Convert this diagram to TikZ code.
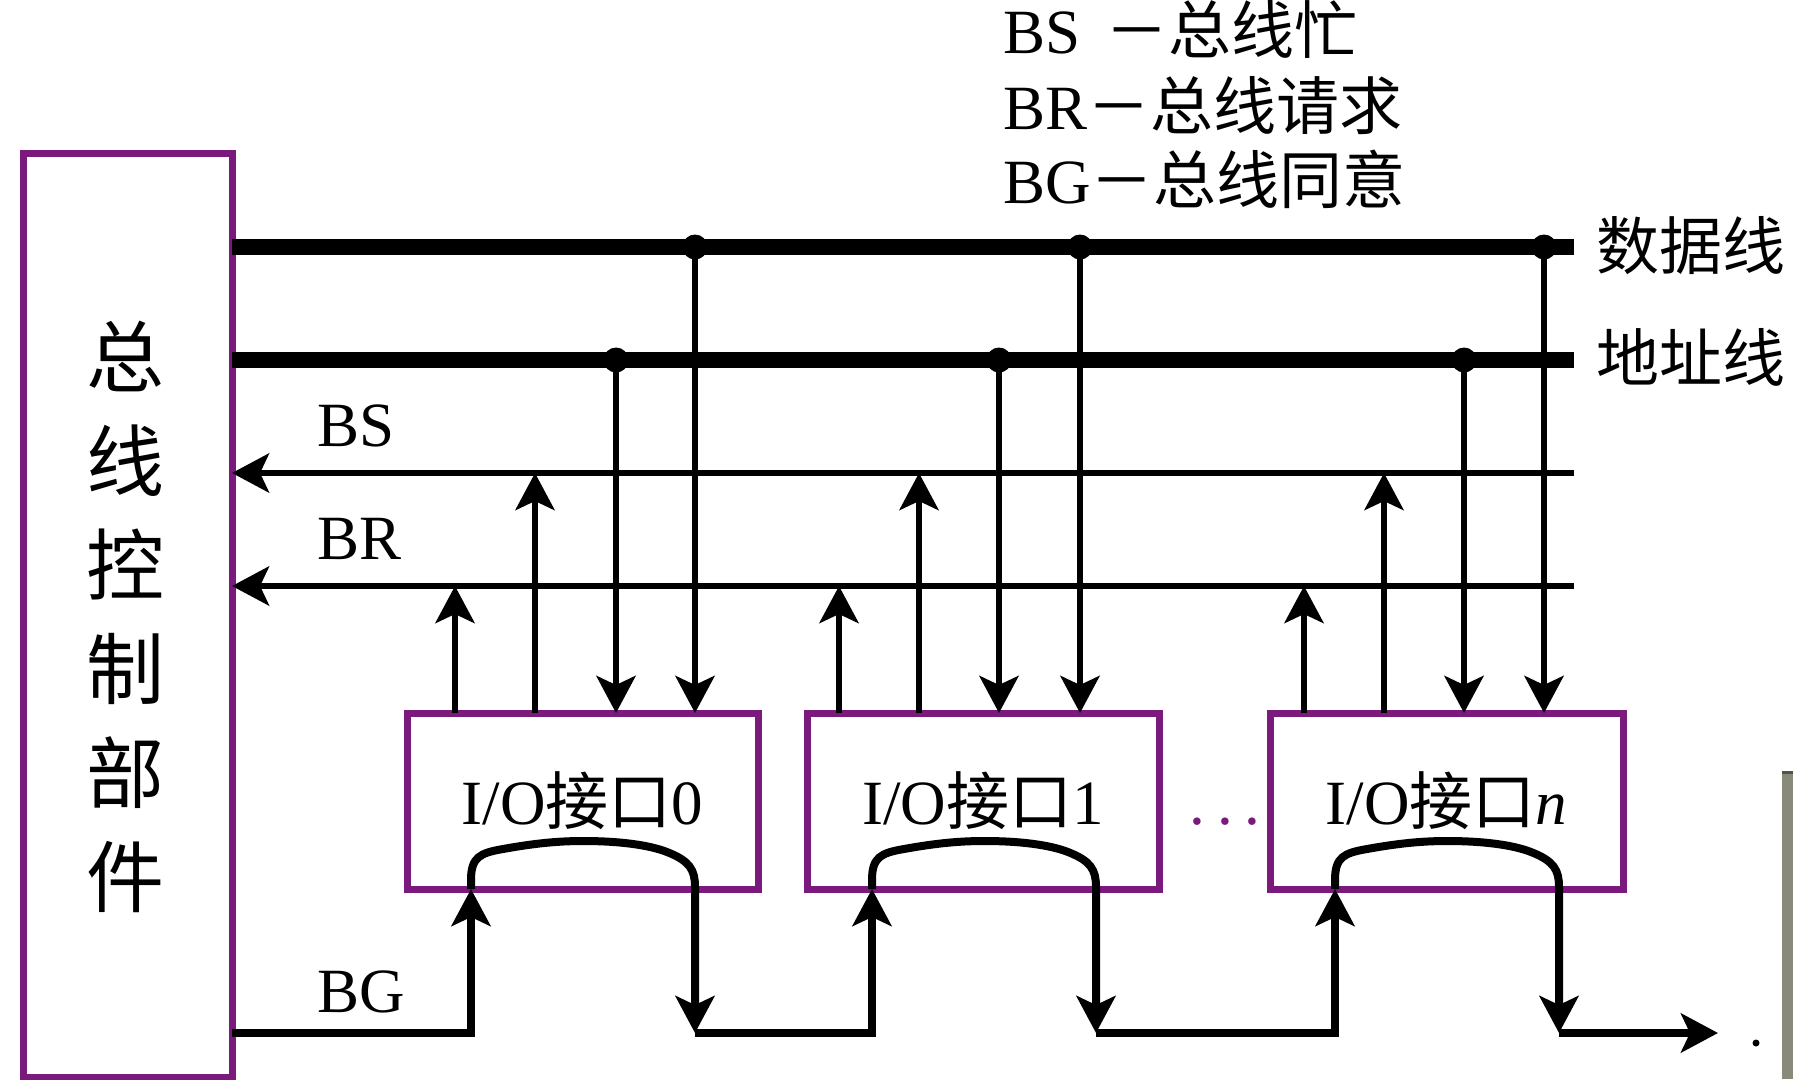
\documentclass[tikz,border=0pt]{standalone}
\usepackage{fontspec}
\setmainfont{Liberation Serif}
\newfontfamily\cjk{Noto Sans CJK SC}
\usetikzlibrary{arrows.meta,calc}
\definecolor{iopurple}{RGB}{122,26,124}
\definecolor{panelgray}{RGB}{138,138,122}
\begin{document}
\begin{tikzpicture}[x=1pt,y=-1pt,
  box/.style={draw=iopurple, line width=7pt, outer sep=0pt, inner sep=0pt},
  sig/.style={line width=6.5pt},
  bus/.style={line width=16pt},
  bgl/.style={line width=8pt},
  arr/.style={-{Stealth[length=37pt,width=39pt,inset=9pt]}},
  txt/.style={font=\fontsize{63}{70}\selectfont, inner sep=0pt},
  cjkt/.style={font=\cjk\fontsize{63}{70}\selectfont, inner sep=0pt},
]
\useasboundingbox (0,0) rectangle (1793,1079);

% boxes
\node[box, minimum width=208.5pt, minimum height=924pt] (ctl) at (127.75,615) {};
\node[font=\cjk\fontsize{78}{104}\selectfont, align=center, inner sep=0pt] (ctltxt) at (125,617) {总\\线\\控\\制\\部\\件};

\node[box, txt, minimum width=351pt, minimum height=176pt] (io0) at (582.5,801) {I/O{\cjk 接口}0};
\node[box, txt, minimum width=352pt, minimum height=176pt] (io1) at (983,801) {I/O{\cjk 接口}1};
\node[box, txt, minimum width=353pt, minimum height=176pt] (ion) at (1446.5,801) {I/O{\cjk 接口}\textit{n}};
\node[txt, text=iopurple, anchor=base] (dots) at (1225,824) {.\kern12pt.\kern12pt.};

% bus end points
\coordinate (dEnd) at (1574,247);
\coordinate (aEnd) at (1574,360);
\coordinate (sEnd) at (1574,473);
\coordinate (rEnd) at (1574,586);

\draw[bus] (ctl.east |- dEnd) -- (dEnd);
\draw[bus] (ctl.east |- aEnd) -- (aEnd);
\draw[sig,arr] (sEnd) -- (ctl.east |- sEnd);
\draw[sig,arr] (rEnd) -- (ctl.east |- rEnd);

% per-interface connections
\foreach \bx/\xbr/\xbs/\xad/\xda in {io0/455/535/616/695, io1/839/919/999/1080, ion/1304/1384/1464/1544}{
  \coordinate (\bx br) at (\xbr,713);
  \coordinate (\bx bs) at (\xbs,713);
  \coordinate (\bx ad) at (\xad,360);
  \coordinate (\bx da) at (\xda,247);
  \draw[sig,arr] (\bx.north -| \bx br) -- (rEnd -| \bx br);
  \draw[sig,arr] (\bx.north -| \bx bs) -- (sEnd -| \bx bs);
  \draw[sig,arr] (\bx ad) -- (\bx.north -| \bx ad);
  \draw[sig,arr] (\bx da) -- (\bx.north -| \bx da);
  \fill (\bx ad) circle[radius=12.5pt];
  \fill (\bx da) circle[radius=12.5pt];
}

% BG daisy chain
\coordinate (g0) at (471,1033); \coordinate (h0) at (695,1033);
\coordinate (g1) at (872,1033); \coordinate (h1) at (1096,1033);
\coordinate (g2) at (1335,1033); \coordinate (h2) at (1559,1033);
\coordinate (gEnd) at (1718,1033);

\draw[bgl,arr] (ctl.east |- g0) -- (g0) -- (io0.south -| g0);
\draw[bgl,arr] (h0) -- (g1) -- (io1.south -| g1);
\draw[bgl,arr] (h1) -- (g2) -- (ion.south -| g2);
\draw[bgl,arr] (h2) -- (gEnd);

\foreach \bx/\i/\u in {io0/0/471, io1/1/872, ion/2/1335}{
  \draw[bgl,arr] (\bx.south -| g\i) -- (\u,880)
    .. controls (\u,857) and (\u+9,853) .. (\u+32,849)
    .. controls (\u+60,844) and (\u+84,841) .. (\u+112,841)
    .. controls (\u+149,841) and (\u+178,845) .. (\u+196,852)
    .. controls (\u+219,861) and (\u+224,870) .. (\u+224,887)
    -- (h\i);
}

% labels
\node[txt, anchor=base west] (lbs) at (317,446) {BS};
\node[txt, anchor=base west] (lbr) at (317,559) {BR};
\node[txt, anchor=base west] (lbg) at (317,1012) {BG};
\node[cjkt, anchor=west] (ldata) at (1596,246) {数据线};
\node[cjkt, anchor=west] (laddr) at (1596,357) {地址线};

% legend
\node[txt, anchor=base west] (lg1) at (1003,53) {BS\hspace{0.4em}{\cjk －总线忙}};
\node[txt, anchor=base west] (lg2) at (1003,129) {BR{\cjk －总线请求}};
\node[txt, anchor=base west] (lg3) at (1003,203) {BG{\cjk －总线同意}};

% screen artefact at the right edge
\fill[panelgray] (1782,771) rectangle (1793,1079);
\draw[line width=3pt, color=panelgray!60!black] (1782,772) -- (1793,772);
\fill (1756,1043) circle[radius=3.5pt];
\end{tikzpicture}
\end{document}
